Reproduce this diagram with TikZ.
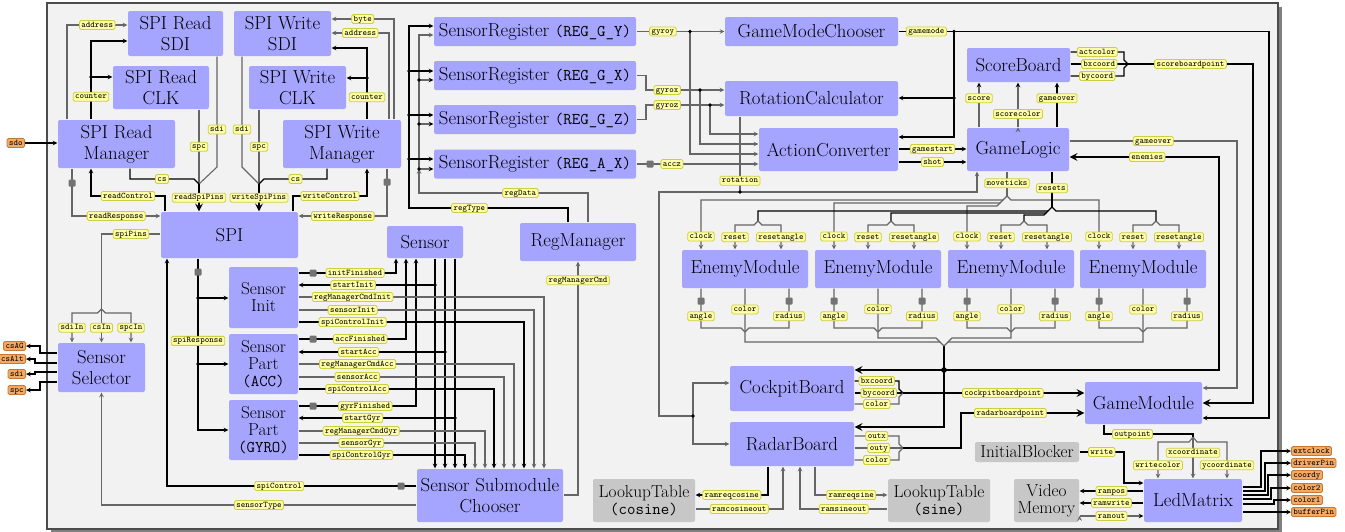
\documentclass[tikz,border=0pt]{standalone}
\usepackage{tikz}
\definecolor{boxblue}{RGB}{165,165,255}
\definecolor{lblfill}{RGB}{255,255,165}
\definecolor{lblline}{RGB}{205,205,70}
\definecolor{pinfill}{RGB}{244,170,100}
\definecolor{pinline}{RGB}{200,120,50}
\tikzset{
  box/.style={fill=boxblue, rounded corners=2pt, inner sep=0pt, align=center, font=\fontsize{18.8}{21}\selectfont},
  sbox/.style={box, font=\fontsize{17.3}{17}\selectfont},
  gbox/.style={box, fill=black!22, font=\fontsize{17.3}{17}\selectfont},
  lbl/.style={fill=lblfill, draw=lblline, line width=0.8pt, rounded corners=1.5pt, inner xsep=2pt, inner ysep=1pt,
    text height=5.6pt, text depth=1.4pt, font=\ttfamily\fontsize{8.6}{9}\selectfont},
  pin/.style={lbl, fill=pinfill, draw=pinline},
  reg/.style={fill=black!55, rounded corners=1pt, minimum size=7pt, inner sep=0pt},
  gw/.style={draw=black!60},
  bus/.style={line width=2.4pt},
}
\newcommand{\mono}[1]{{\ttfamily\fontsize{16.4}{17}\selectfont #1}}
\begin{document}
\begin{tikzpicture}[>=stealth, x=1pt, y=-1pt, line width=1.1pt]
\useasboundingbox (0,0) rectangle (1345,531);
\fill[black!50] (51,7) rectangle (1282,533);
\draw[fill=black!5, draw=black!70, line width=1.3pt] (47,3) rectangle (1278,529);

\node[box, minimum width=95pt, minimum height=45pt] (rsdi) at (175.5,33.5) {SPI Read\\SDI};
\node[box, minimum width=96pt, minimum height=43pt] (rclk) at (161,87.5) {SPI Read\\CLK};
\node[box, minimum width=117pt, minimum height=48pt] (rmgr) at (116.5,144) {SPI Read\\Manager};
\node[box, minimum width=97pt, minimum height=45pt] (wsdi) at (282.5,33.5) {SPI Write\\SDI};
\node[box, minimum width=97pt, minimum height=43pt] (wclk) at (297.5,87.5) {SPI Write\\CLK};
\node[box, minimum width=118pt, minimum height=48pt] (wmgr) at (342,144) {SPI Write\\Manager};
\node[box, minimum width=137pt, minimum height=46pt] (spi) at (229.5,235) {SPI};
\node[box, minimum width=87pt, minimum height=49pt] (ssel) at (101.5,367.5) {Sensor\\Selector};
\node[box, minimum width=76pt, minimum height=32pt] (sens) at (425,242) {Sensor};
\node[sbox, minimum width=69pt, minimum height=61pt] (sinit) at (263.5,297.5) {Sensor\\Init};
\node[sbox, minimum width=69pt, minimum height=60pt] (sacc) at (263.5,364) {Sensor\\Part\\\mono{(ACC)}};
\node[sbox, minimum width=69pt, minimum height=60pt] (sgyr) at (263.5,430) {Sensor\\Part\\\mono{(GYRO)}};
\node[box, minimum width=146pt, minimum height=53pt] (ssc) at (490,495.5) {Sensor Submodule\\Chooser};
\node[box, minimum width=202pt, minimum height=29pt] (rgy) at (535,31.5) {SensorRegister \mono{(REG\_G\_Y)}};
\node[box, minimum width=202pt, minimum height=29pt] (rgx) at (535,75.5) {SensorRegister \mono{(REG\_G\_X)}};
\node[box, minimum width=202pt, minimum height=29pt] (rgz) at (535,119.5) {SensorRegister \mono{(REG\_G\_Z)}};
\node[box, minimum width=202pt, minimum height=29pt] (rax) at (535,164) {SensorRegister \mono{(REG\_A\_X)}};
\node[box, minimum width=116pt, minimum height=38pt] (regm) at (578,242) {RegManager};
\node[gbox, minimum width=102pt, minimum height=43pt] (lutc) at (644,500.5) {LookupTable\\\mono{(cosine)}};
\node[box, minimum width=173pt, minimum height=29pt] (gmc) at (811.5,31.5) {GameModeChooser};
\node[box, minimum width=173pt, minimum height=35pt] (rot) at (811.5,98.5) {RotationCalculator};
\node[box, minimum width=139pt, minimum height=43pt] (act) at (828.5,149.5) {ActionConverter};
\node[box, minimum width=103pt, minimum height=34pt] (sb) at (1018.5,65) {ScoreBoard};
\node[box, minimum width=102pt, minimum height=43pt] (gl) at (1018,149.5) {GameLogic};
\node[box, minimum width=126pt, minimum height=38pt] (em1) at (745,269) {EnemyModule};
\node[box, minimum width=126pt, minimum height=38pt] (em2) at (878,269) {EnemyModule};
\node[box, minimum width=126pt, minimum height=38pt] (em3) at (1011,269) {EnemyModule};
\node[box, minimum width=126pt, minimum height=38pt] (em4) at (1143,269) {EnemyModule};
\node[box, minimum width=124pt, minimum height=45pt] (cb) at (792,388.5) {CockpitBoard};
\node[box, minimum width=124pt, minimum height=44pt] (rb) at (792,444) {RadarBoard};
\node[box, minimum width=117pt, minimum height=42pt] (gm) at (1143.5,403) {GameModule};
\node[gbox, minimum width=104pt, minimum height=20pt] (ib) at (1027,452) {InitialBlocker};
\node[gbox, minimum width=102pt, minimum height=43pt] (luts) at (939,500.5) {LookupTable\\\mono{(sine)}};
\node[gbox, minimum width=65pt, minimum height=43pt] (vm) at (1046.5,500.5) {Video\\Memory};
\node[box, minimum width=98pt, minimum height=43pt] (led) at (1193,500.5) {LedMatrix};

\node[pin, anchor=east] (psdo) at (25,143) {sdo};
\node[pin, anchor=east] (pcsag) at (26,346) {csAG};
\node[pin, anchor=east] (pcsalt) at (26,359) {csAlt};
\node[pin, anchor=east] (psdi) at (26,374) {sdi};
\node[pin, anchor=east] (pspc) at (26,390) {spc};
\node[pin, anchor=west] (pext) at (1291,451) {extclock};
\node[pin, anchor=west] (pdrv) at (1291,463) {driverPin};
\node[pin, anchor=west] (pcoordy) at (1291,475) {coordy};
\node[pin, anchor=west] (pcolor2) at (1291,488) {color2};
\node[pin, anchor=west] (pcolor1) at (1291,500) {color1};
\node[pin, anchor=west] (pbuf) at (1291,512) {bufferPin};

\draw[->] (psdo.east) -- (rmgr.west |- psdo.east);
\draw[->, gw] (rmgr.north -| 67,0) |- node[lbl, pos=0.75] {address} (rsdi.west |- 0,25);
\draw[->] (rmgr.north -| 91,0) -- node[lbl, pos=0.29] {counter} (91,41) -- (rsdi.west |- 0,41);
\draw[->] (91,77) -- (rclk.west |- 0,77);
\fill (91,77) circle (1.8pt);
\draw[gw] (rsdi.south -| 217,0) -- node[lbl, pos=0.66] {sdi} (217,167) -- (199,184);
\draw[gw] (rclk.south -| 199,0) -- node[lbl] {spc} (199,184);
\draw (rmgr.south -| 130,0) |- node[lbl, pos=0.75] {cs} (194,179) -- (199,184);
\draw[->, bus] (199,184) -- node[lbl] {readSpiPins} (spi.north -| 199,0);
\draw[->] (spi.north -| 165,0) |- node[lbl, pos=0.75] {readControl} (91,196) -- (rmgr.south -| 91,0);
\draw[->, gw] (rmgr.south -| 72,0) -- (72,216) -- node[lbl] {readResponse} (spi.west |- 0,216);
\node[reg] (rr) at (72,183) {};

\draw[->, gw] (wmgr.north -| 394,0) |- node[lbl, pos=0.75] {byte} (wsdi.east |- 0,19);
\draw[->, gw] (wmgr.north -| 389,0) |- node[lbl, pos=0.75] {address} (wsdi.east |- 0,33);
\draw[->] (wmgr.north -| 367,0) -- node[lbl, pos=0.31] {counter} (367,48) -- (wsdi.east |- 0,48);
\draw[->] (367,78) -- (wclk.east |- 0,78);
\fill (367,78) circle (1.8pt);
\draw[gw] (wsdi.south -| 242,0) -- node[lbl, pos=0.66] {sdi} (242,167) -- (259,184);
\draw[gw] (wclk.south -| 259,0) -- node[lbl] {spc} (259,184);
\draw (wmgr.south -| 327,0) |- node[lbl, pos=0.75] {cs} (264,179) -- (259,184);
\draw[->, bus] (259,184) -- node[lbl] {writeSpiPins} (spi.north -| 259,0);
\draw[->] (spi.north -| 293,0) |- node[lbl, pos=0.75] {writeControl} (367,196) -- (wmgr.south -| 367,0);
\draw[->, gw] (wmgr.south -| 387,0) -- (387,216) -- node[lbl] {writeResponse} (spi.east |- 0,216);
\node[reg] (wr) at (387,182) {};

\draw[gw] (spi.west |- 0,234) -| node[lbl, pos=0.25] {spiPins} (101.5,309);
\draw[->, gw] (101.5,309) -- node[lbl, pos=0.56] {csIn} (ssel.north);
\draw[->, gw] (101.5,309) -- (97.5,313) -| node[lbl, pos=0.75] {sdiIn} (ssel.north -| 72,0);
\draw[->, gw] (101.5,309) -- (105.5,313) -| node[lbl, pos=0.75] {spcIn} (ssel.north -| 131,0);
\draw[->] (ssel.west |- 0,353) -| (40,346) -- (pcsag.east);
\draw[->] (ssel.west |- 0,363) -| (35,359) -- (pcsalt.east);
\draw[->] (ssel.west |- 0,372) -| (35,374) -- (psdi.east);
\draw[->] (ssel.west |- 0,382) -| (40,390) -- (pspc.east);

\draw[->, gw] (ssc.west |- 0,505) -- node[lbl, pos=0.5] {sensorType} (101.5,505) -- (ssel.south);
\draw[->] (ssc.west |- 0,486) -- node[lbl, pos=0.55] {spiControl} (167,486) -- (spi.south -| 167,0);
\node[reg] (sc) at (401,486) {};
\draw[->] (spi.south -| 198,0) |- node[lbl, pos=0.24] {spiResponse} (sgyr.west |- 0,430);
\node[reg] (sr) at (198,272) {};
\draw[->] (198,298) -- (sinit.west |- 0,298);
\draw[->] (198,364) -- (sacc.west |- 0,364);
\fill (198,298) circle (1.8pt) (198,364) circle (1.8pt);

\path[->]
  (sens.south -| 435,0) edge (ssc.north -| 435,0)
  (sens.south -| 445,0) edge (ssc.north -| 445,0)
  (sens.south -| 455,0) edge (ssc.north -| 455,0)
  (435,285) edge node[lbl, pos=0.6] {startInit} (sinit.east |- 0,285)
  (445,352) edge node[lbl, pos=0.59] {startAcc} (sacc.east |- 0,352)
  (455,418) edge node[lbl, pos=0.59] {startGyr} (sgyr.east |- 0,418)
;
\fill (435,285) circle (1.8pt) (445,352) circle (1.8pt) (455,418) circle (1.8pt);
\draw[->] (sinit.east |- 0,273) -| node[lbl, pos=0.29] {initFinished} (sens.south -| 396,0);
\draw[->] (sacc.east |- 0,339) -| node[lbl, pos=0.287] {accFinished} (sens.south -| 406,0);
\draw[->] (sgyr.east |- 0,406) -| node[lbl, pos=0.284] {gyrFinished} (sens.south -| 416,0);
\node[reg] (fi) at (313,273) {};
\node[reg] (fa) at (313,339) {};
\node[reg] (fg) at (313,406) {};
\draw[->, gw] (sinit.east |- 0,297) -| node[lbl, pos=0.11] {regManagerCmdInit} (ssc.north -| 544,0);
\draw[->, gw] (sinit.east |- 0,310) -| node[lbl, pos=0.115] {sensorInit} (ssc.north -| 534,0);
\draw[->] (sinit.east |- 0,322) -| node[lbl, pos=0.12] {spiControlInit} (ssc.north -| 524,0);
\draw[->, gw] (sacc.east |- 0,364) -| node[lbl, pos=0.137] {regManagerCmdAcc} (ssc.north -| 514,0);
\draw[->, gw] (sacc.east |- 0,377) -| node[lbl, pos=0.143] {sensorAcc} (ssc.north -| 504,0);
\draw[->] (sacc.east |- 0,389) -| node[lbl, pos=0.15] {spiControlAcc} (ssc.north -| 494,0);
\draw[->, gw] (sgyr.east |- 0,431) -| node[lbl, pos=0.168] {regManagerCmdGyr} (ssc.north -| 485,0);
\draw[->, gw] (sgyr.east |- 0,443) -| node[lbl, pos=0.178] {sensorGyr} (ssc.north -| 475,0);
\draw[->] (sgyr.east |- 0,455) -| node[lbl, pos=0.189] {spiControlGyr} (ssc.north -| 465,0);

\draw[->, gw] (ssc.east |- 0,495) -| node[lbl, pos=0.96] {regManagerCmd} (regm.south -| 578,0);
\draw[->] (regm.north -| 568,0) |- node[lbl, pos=0.81] {regType} (409,208) -- (409,26) -- (rgy.west |- 0,26);
\draw[->, gw] (regm.north -| 588,0) |- node[lbl, pos=0.7] {regData} (419,193) -- (419,35) -- (rgy.west |- 0,35);
\path[->]
  (409,71) edge (rgx.west |- 0,71)
  (409,115) edge (rgz.west |- 0,115)
  (409,159) edge (rax.west |- 0,159)
;
\path[->, gw]
  (419,80) edge (rgx.west |- 0,80)
  (419,124) edge (rgz.west |- 0,124)
  (419,169) edge (rax.west |- 0,169)
;
\fill (409,71) circle (1.8pt) (409,115) circle (1.8pt) (409,159) circle (1.8pt);
\fill (419,80) circle (1.8pt) (419,124) circle (1.8pt) (419,169) circle (1.8pt);

\draw[->, gw] (rgy.east) -- node[lbl, pos=0.3] {gyroy} (gmc.west);
\draw[->, gw] (690,31.5) |- (act.west |- 0,154);
\draw[->, gw] (rgx.east) -| (646,90) -- node[lbl, pos=0.27] {gyrox} (rot.west |- 0,90);
\draw[->, gw] (700,90) |- (act.west |- 0,144);
\draw[->, gw] (rgz.east) -| (646,105) -- node[lbl, pos=0.27] {gyroz} (rot.west |- 0,105);
\draw[->, gw] (710,105) |- (act.west |- 0,134);
\draw[->, gw] (rax.east) -- node[lbl, pos=0.29] {accz} (act.west |- rax.east);
\node[reg] (ra) at (650,164) {};
\fill (690,31.5) circle (1.8pt) (700,90) circle (1.8pt) (710,105) circle (1.8pt);

\draw[gw] (rot.south -| 740,0) -- node[lbl, pos=0.85] {rotation} (740,192);
\draw[->, gw] (740,192) -| (gl.south -| 977,0);
\draw[->, gw] (740,192) -- (659,192) |- (693,416) |- (cb.west |- 0,383);
\draw[->, gw] (693,416) |- (rb.west |- 0,444);
\fill (740,192) circle (1.8pt) (693,416) circle (1.8pt);

\draw[->] (gmc.east) -- node[lbl, pos=0.075] {gamemode} (1269,31.5) |- (gm.east |- 0,418);
\draw[->] (954,31.5) |- (rot.east |- 0,98);
\draw[->] (954,98) |- (act.east |- 0,137);
\fill (954,31.5) circle (1.8pt) (954,98) circle (1.8pt);

\path[->]
  (act.east |- 0,149) edge node[lbl] {gamestart} (gl.west |- 0,149)
  (act.east |- 0,162) edge node[lbl] {shot} (gl.west |- 0,162)
  (gl.north -| 1057,0) edge node[lbl, pos=0.65] {gameover} (sb.south -| 1057,0)
;
\path[->, gw]
  (gl.north -| 979,0) edge node[lbl, pos=0.65] {score} (sb.south -| 979,0)
  (gl.north -| 1018,0) edge node[lbl, pos=0.3] {scorecolor} (sb.south -| 1018,0)
;
\draw (sb.east |- 0,52) -- node[lbl] {actcolor} (1124,52) -- (1124,60) -- (1128,64);
\draw (sb.east |- 0,64) -- node[lbl] {bxcoord} (1128,64);
\draw (sb.east |- 0,76) -- node[lbl] {bycoord} (1124,76) -- (1124,68) -- (1128,64);
\draw[->, bus] (1128,64) -- node[lbl, pos=0.5] {scoreboardpoint} (1253,64) |- (gm.east |- 0,403);

\draw[->, gw] (gl.east |- 0,141) -- node[lbl, pos=0.5] {gameover} (1237,141) |- (gm.east |- 0,388);
\draw[->, bus] (944,370) -| (1219,157) -- node[lbl, pos=0.48] {enemies} (gl.east |- 0,157);
\draw[->, bus] (944,370) -- (cb.east |- 0,370);
\draw[->, bus] (944,346) |- (rb.east |- 0,427);
\fill (944,370) circle (2.8pt);

\draw[gw] (gl.south -| 1007,0) -- node[lbl, pos=0.48] {moveticks} (1007,196);
\draw[->, gw] (1007,196) -- (1003,200) -| node[lbl, pos=0.87] {clock} (em1.north -| 701,0);
\draw[->, gw] (1003,200) -- (1000,203) -| node[lbl, pos=0.86] {clock} (em2.north -| 834,0);
\draw[->, gw] (1000,203) -- (997,206) -| node[lbl, pos=0.85] {clock} (em3.north -| 967,0);
\draw[->, gw] (1007,196) -- (1011,200) -| node[lbl, pos=0.87] {clock} (em4.north -| 1099,0);
\draw[line width=1.6pt] (gl.south -| 1052,0) -- node[lbl, pos=0.47] {resets} (1052,207);
\draw (1052,207) -- (1048,211) -| (758,221);
\draw (1048,211) -- (1046,213) -| (891,221);
\draw (1046,213) -- (1044,215) -| (1024,221);
\draw (1052,207) -- (1056,211) -| (1156,221);

\draw[->, gw] (758,221) -- (754,225) -| node[lbl, pos=0.75] {reset} (em1.north -| 735,0);
\draw[->, gw] (758,221) -- (762,225) -| node[lbl, pos=0.75] {resetangle} (em1.north -| 781,0);
\draw[->, gw] (891,221) -- (887,225) -| node[lbl, pos=0.75] {reset} (em2.north -| 868,0);
\draw[->, gw] (891,221) -- (895,225) -| node[lbl, pos=0.75] {resetangle} (em2.north -| 914,0);
\draw[->, gw] (1024,221) -- (1020,225) -| node[lbl, pos=0.75] {reset} (em3.north -| 1001,0);
\draw[->, gw] (1024,221) -- (1028,225) -| node[lbl, pos=0.75] {resetangle} (em3.north -| 1047,0);
\draw[->, gw] (1156,221) -- (1152,225) -| node[lbl, pos=0.75] {reset} (em4.north -| 1133,0);
\draw[->, gw] (1156,221) -- (1160,225) -| node[lbl, pos=0.75] {resetangle} (em4.north -| 1179,0);

\draw[gw] (em1.south -| 701,0) -- node[lbl, pos=0.7] {angle} (701,328) -- (741,328) -- (745,332);
\draw[gw] (em1.south -| 789,0) -- node[lbl, pos=0.7] {radius} (789,328) -- (749,328) -- (745,332);
\draw[gw] (em1.south) -- node[lbl, pos=0.39] {color} (745,342) -- (940,342) -- (944,346);
\draw[gw] (em2.south -| 834,0) -- node[lbl, pos=0.7] {angle} (834,328) -- (874,328) -- (878,332);
\draw[gw] (em2.south -| 922,0) -- node[lbl, pos=0.7] {radius} (922,328) -- (882,328) -- (878,332);
\draw[gw] (em2.south) -- node[lbl, pos=0.42] {color} (878,338) -- (936,338) -- (940,342);
\draw[gw] (em3.south -| 967,0) -- node[lbl, pos=0.7] {angle} (967,328) -- (1007,328) -- (1011,332);
\draw[gw] (em3.south -| 1055,0) -- node[lbl, pos=0.7] {radius} (1055,328) -- (1015,328) -- (1011,332);
\draw[gw] (em3.south) -- node[lbl, pos=0.42] {color} (1011,338) -- (952,338) -- (948,342);
\draw[gw] (em4.south -| 1099,0) -- node[lbl, pos=0.7] {angle} (1099,328) -- (1139,328) -- (1143,332);
\draw[gw] (em4.south -| 1187,0) -- node[lbl, pos=0.7] {radius} (1187,328) -- (1147,328) -- (1143,332);
\draw[gw] (em4.south) -- node[lbl, pos=0.39] {color} (1143,342) -- (948,342) -- (944,346);
\node[reg] (a1) at (701,301) {};
\node[reg] (r1) at (789,301) {};
\node[reg] (a2) at (834,301) {};
\node[reg] (r2) at (922,301) {};
\node[reg] (a3) at (967,301) {};
\node[reg] (r3) at (1055,301) {};
\node[reg] (a4) at (1099,301) {};
\node[reg] (r4) at (1187,301) {};

\draw (cb.east |- 0,381) -- node[lbl] {bxcoord} (899,381) -- (899,389) -- (903,393);
\draw (cb.east |- 0,393) -- node[lbl] {bycoord} (903,393);
\draw[gw] (cb.east |- 0,404) -- node[lbl] {color} (899,404) -- (899,397) -- (903,393);
\draw[->, bus] (903,393) -- node[lbl, pos=0.55] {cockpitboardpoint} (gm.west |- 0,393);
\draw[gw] (rb.east |- 0,436) -- node[lbl] {outx} (899,436) -- (899,444) -- (903,448);
\draw[gw] (rb.east |- 0,448) -- node[lbl] {outy} (903,448);
\draw[gw] (rb.east |- 0,460) -- node[lbl] {color} (899,460) -- (899,452) -- (903,448);
\draw[->, bus] (903,448) -| (961,413) -- node[lbl, pos=0.4] {radarboardpoint} (gm.west |- 0,413);

\draw[->] (rb.south -| 768,0) |- node[lbl, pos=0.75] {ramreqcosine} (lutc.east |- 0,495);
\draw[->, gw] (lutc.east |- 0,509) -| node[lbl, pos=0.25] {ramcosineout} (rb.south -| 783,0);
\draw[->, gw] (luts.west |- 0,509) -| node[lbl, pos=0.25] {ramsineout} (rb.south -| 800,0);
\draw[->, gw] (rb.south -| 815,0) |- node[lbl, pos=0.75] {ramreqsine} (luts.west |- 0,495);

\draw[bus] (gm.south -| 1104,0) |- node[lbl, pos=0.66] {outpoint} (1193,434) -- (1193,437);
\draw[->, gw] (1193,437) -- (1189,442) -| node[lbl, pos=0.82] {writecolor} (led.north -| 1158,0);
\draw[->, gw] (1193,437) -- node[lbl, pos=0.38] {xcoordinate} (led.north -| 1193,0);
\draw[->, gw] (1193,437) -- (1197,442) -| node[lbl, pos=0.82] {ycoordinate} (led.north -| 1227,0);
\draw[->] (ib.east) -- node[lbl, pos=0.5] {write} (1124,452) |- (led.west |- 0,483);
\path[->]
  (led.west |- 0,491) edge node[lbl] {rampos} (vm.east |- 0,491)
  (led.west |- 0,503) edge node[lbl] {ramwrite} (vm.east |- 0,503)
;
\path[->, gw]
  (vm.east |- 0,516) edge node[lbl] {ramout} (led.west |- 0,516)
;
\draw[->] (led.east |- 0,487) -| (1261,451) -- (pext.west);
\draw[->] (led.east |- 0,491) -| (1265,463) -- (pdrv.west);
\draw[->] (led.east |- 0,495) -| (1268,475) -- (pcoordy.west);
\draw[->] (led.east |- 0,499) -| (1271,488) -- (pcolor2.west);
\draw[->] (led.east |- 0,504) -| (1274,500) -- (pcolor1.west);
\draw[->] (led.east |- 0,512) -- (pbuf.west);
\end{tikzpicture}
\end{document}
